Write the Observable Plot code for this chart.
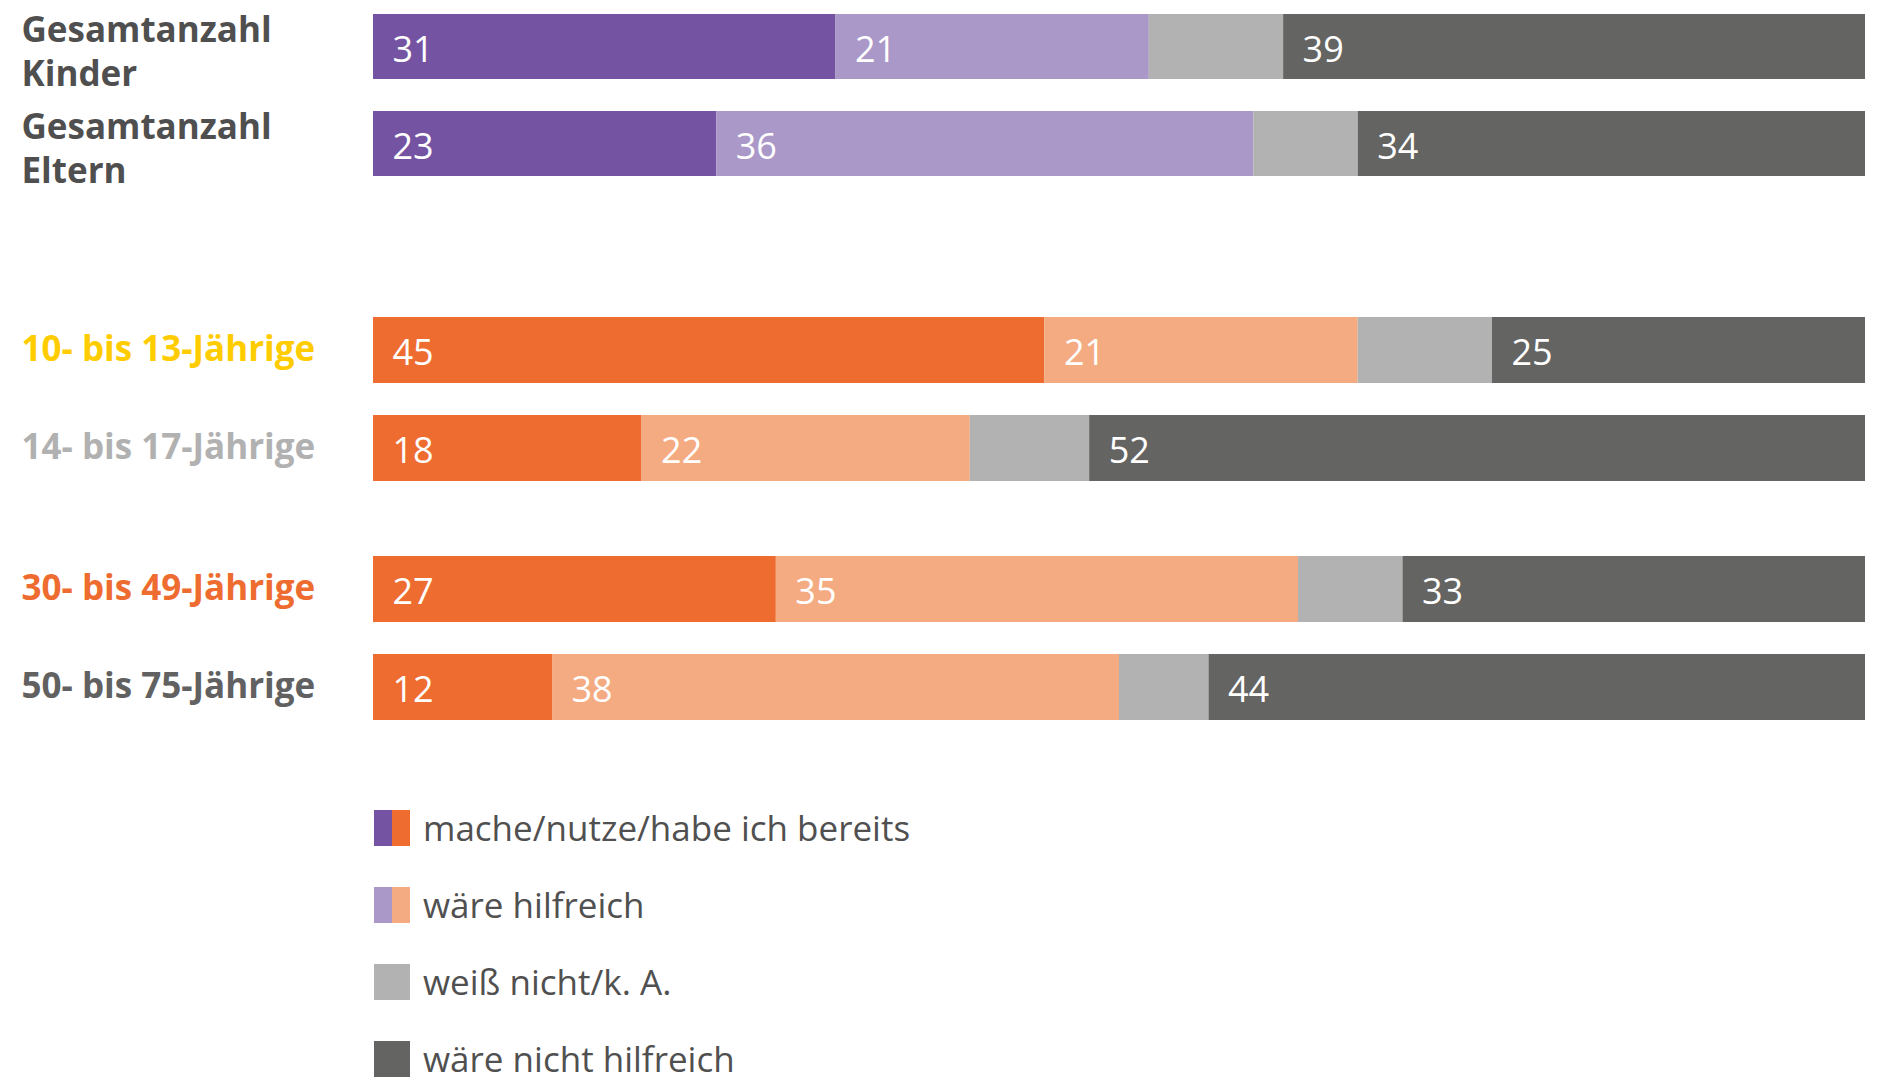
<!DOCTYPE html>
<html>
<head>
<meta charset="utf-8">
<script src="https://cdn.jsdelivr.net/npm/d3@7"></script>
<script src="https://cdn.jsdelivr.net/npm/@observablehq/plot@0.6"></script>
<style>
  html, body { margin: 0; padding: 0; background: #fff; }
  body { width: 1881px; height: 1079px; overflow: hidden; font-family: "Open Sans", sans-serif; }
  #chart svg { display: block; }
  #legend { margin-left: 374px; margin-top: 80px; }
  .item { display: flex; align-items: center; height: 36px; margin-bottom: 41px; }
  .sw { width: 36px; height: 36px; display: flex; flex: none; }
  .sw span { flex: 1; height: 100%; }
  .lab { margin-left: 13px; font-size: 35px; color: #505050; line-height: 36px; white-space: nowrap; }
</style>
</head>
<body>
<div id="chart"></div>
<div id="legend"></div>
<script>
// ---- data ----
const series = ["mache/nutze/habe ich bereits", "wäre hilfreich", "weiß nicht/k. A.", "wäre nicht hilfreich"];

const groupTotal = ["Gesamtanzahl\nKinder", "Gesamtanzahl\nEltern"];
const valuesTotal = [[31, 21, 9, 39], [23, 36, 7, 34]];

const groupKids = ["10- bis 13-Jährige", "14- bis 17-Jährige"];
const valuesKids = [[45, 21, 9, 25], [18, 22, 8, 52]];

const groupParents = ["30- bis 49-Jährige", "50- bis 75-Jährige"];
const valuesParents = [[27, 35, 7, 33], [12, 38, 6, 44]];

const purplePalette = ["#7453a2", "#aa98c8", "#b2b2b2", "#646463"];
const orangePalette = ["#ee6c2f", "#f5ab82", "#b2b2b2", "#646463"];

const labelColorsTotal = ["#4f4f4f", "#4f4f4f"];
const labelColorsKids = ["#ffcc00", "#b1b1b1"];
const labelColorsParents = ["#ee6c30", "#616161"];

// ---- chart ----
function makePlot(cats, values, palette, labelColors, height, marginTop, marginBottom) {
  const rows = [];
  cats.forEach((c, i) => values[i].forEach((v, j) => rows.push({cat: c, series: series[j], value: v, color: palette[j]})));
  const svg = Plot.plot({
    width: 1881,
    height,
    marginLeft: 373,
    marginRight: 16,
    marginTop,
    marginBottom,
    style: {fontFamily: "'Open Sans', sans-serif", background: "white", overflow: "visible"},
    x: {domain: [0, 100], axis: null},
    y: {domain: cats, axis: null, paddingInner: 0.33, paddingOuter: 0},
    color: {type: "identity"},
    marks: [
      Plot.barX(rows, Plot.stackX({x: "value", y: "cat", z: "series", fill: "color", clip: true})),
      Plot.text(rows, Plot.stackX1({
        x: "value", y: "cat", z: "series",
        text: d => d.series === series[2] ? "" : String(d.value),
        fill: "white", textAnchor: "start", dx: 19, dy: 3, fontSize: 36
      })),
      ...cats.map((c, i) => Plot.text([c], {
        y: d => d, text: d => d,
        frameAnchor: "left", textAnchor: "start", dx: -352,
        dy: c.includes("\n") ? 3 : -4,
        lineHeight: 1.27,
        fill: labelColors[i], fontWeight: "bold", fontSize: 35
      }))
    ]
  });
  return svg;
}

const chart = document.getElementById("chart");
chart.append(makePlot(groupTotal, valuesTotal, purplePalette, labelColorsTotal, 190, 13, 14));
chart.append(makePlot(groupKids, valuesKids, orangePalette, labelColorsKids, 300, 126, 9));
chart.append(makePlot(groupParents, valuesParents, orangePalette, labelColorsParents, 240, 66, 10));

// ---- legend ----
const legend = document.getElementById("legend");
series.forEach((s, j) => {
  const item = document.createElement("div");
  item.className = "item";
  const sw = document.createElement("div");
  sw.className = "sw";
  const cols = purplePalette[j] === orangePalette[j] ? [purplePalette[j]] : [purplePalette[j], orangePalette[j]];
  cols.forEach(c => { const sp = document.createElement("span"); sp.style.background = c; sw.append(sp); });
  const lab = document.createElement("div");
  lab.className = "lab";
  lab.textContent = s;
  item.append(sw, lab);
  legend.append(item);
});
</script>
</body>
</html>
